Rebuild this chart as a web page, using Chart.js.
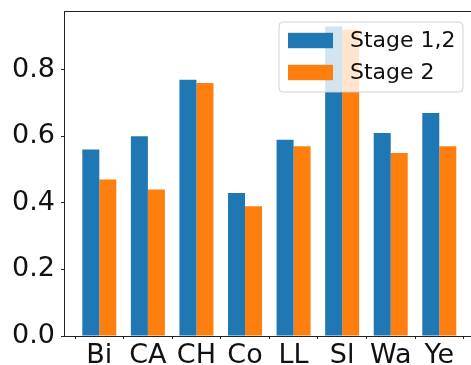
<!DOCTYPE html>
<html>
<head>
<meta charset="utf-8">
<script src="https://cdn.jsdelivr.net/npm/chart.js@4"></script>
<style>
html,body{margin:0;padding:0;background:#fff;overflow:hidden;}
canvas{display:block;}
</style>
</head>
<body>
<canvas id="c" width="471" height="365"></canvas>
<script>
const categories = ["Bi", "CA", "CH", "Co", "LL", "Sl", "Wa", "Ye"];
const stage12 = [0.56, 0.60, 0.77, 0.43, 0.59, 0.93, 0.61, 0.67];
const stage2 = [0.47, 0.44, 0.76, 0.39, 0.57, 0.92, 0.55, 0.57];
const seriesNames = ["Stage 1,2", "Stage 2"];
const yTicks = [0.0, 0.2, 0.4, 0.6, 0.8];

const FONT = "'DejaVu Sans', sans-serif";
const BLUE = "#1f77b4", ORANGE = "#ff7f0e";
const AXIS = "#222";

const legendPlugin = {
  id: 'mplLegend',
  afterDraw(chart) {
    const ctx = chart.ctx, a = chart.chartArea;
    const boxW = 184, boxH = 70;
    const x0 = a.right - 8 - boxW, y0 = a.top + 11;
    ctx.save();
    ctx.beginPath();
    const r = 4;
    ctx.moveTo(x0 + r, y0);
    ctx.arcTo(x0 + boxW, y0, x0 + boxW, y0 + boxH, r);
    ctx.arcTo(x0 + boxW, y0 + boxH, x0, y0 + boxH, r);
    ctx.arcTo(x0, y0 + boxH, x0, y0, r);
    ctx.arcTo(x0, y0, x0 + boxW, y0, r);
    ctx.closePath();
    ctx.fillStyle = "rgba(255,255,255,0.8)";
    ctx.fill();
    ctx.strokeStyle = "rgba(204,204,204,0.9)";
    ctx.lineWidth = 1;
    ctx.stroke();
    ctx.font = "22px " + FONT;
    ctx.textBaseline = "middle";
    ctx.textAlign = "left";
    chart.data.datasets.forEach((ds, i) => {
      const cy = y0 + 18.5 + i * 32;
      ctx.fillStyle = ds.backgroundColor;
      ctx.fillRect(x0 + 9, cy - 7.7, 45, 15.4);
      ctx.fillStyle = "#111";
      ctx.fillText(ds.label, x0 + 71, cy + 1);
    });
    ctx.restore();
  }
};

const topSpine = {
  id: 'topSpine',
  afterDraw(chart) {
    const ctx = chart.ctx, a = chart.chartArea;
    ctx.save();
    ctx.strokeStyle = AXIS;
    ctx.lineWidth = 1;
    ctx.beginPath();
    ctx.moveTo(a.left, a.top + 0.5);
    ctx.lineTo(a.right, a.top + 0.5);
    ctx.stroke();
    ctx.restore();
  }
};

function zeroPad(s) { s.paddingTop = 0; s.paddingBottom = 0; s.paddingLeft = 0; s.paddingRight = 0; }

new Chart(document.getElementById('c'), {
  type: 'bar',
  data: {
    datasets: [
      { label: seriesNames[0], data: stage12.map((v, i) => ({x: i, y: v})), backgroundColor: BLUE },
      { label: seriesNames[1], data: stage2.map((v, i) => ({x: i, y: v})), backgroundColor: ORANGE }
    ]
  },
  options: {
    responsive: false,
    animation: false,
    layout: { padding: { top: 11, right: 0, left: 0, bottom: 0 } },
    categoryPercentage: 0.7,
    barPercentage: 1.0,
    plugins: { legend: { display: false }, tooltip: { enabled: false } },
    scales: {
      x: {
        type: 'linear',
        offset: false,
        min: -0.727,
        max: 7.653,
        afterBuildTicks: s => { s.ticks = categories.map((_, i) => ({ value: i })); },
        afterFit: s => { s.height = 29; zeroPad(s); },
        grid: { display: true, drawOnChartArea: false, drawTicks: true, tickLength: 3, color: AXIS },
        border: { display: true, color: AXIS, width: 1 },
        ticks: {
          autoSkip: false,
          maxRotation: 0,
          padding: 1,
          color: "#111",
          font: { family: FONT, size: 27 },
          callback: v => categories[Math.round(v)] ?? ''
        }
      },
      y: {
        min: 0,
        max: 0.9765,
        afterBuildTicks: s => { s.ticks = yTicks.map(v => ({ value: v })); },
        afterFit: s => { s.width = 64; zeroPad(s); },
        grid: { display: true, drawOnChartArea: false, drawTicks: true, tickLength: 3, color: AXIS },
        border: { display: true, color: AXIS, width: 1 },
        ticks: {
          padding: 6,
          color: "#111",
          font: { family: FONT, size: 27 },
          callback: v => Number(v).toFixed(1)
        }
      }
    }
  },
  plugins: [legendPlugin, topSpine]
});
</script>
</body>
</html>
